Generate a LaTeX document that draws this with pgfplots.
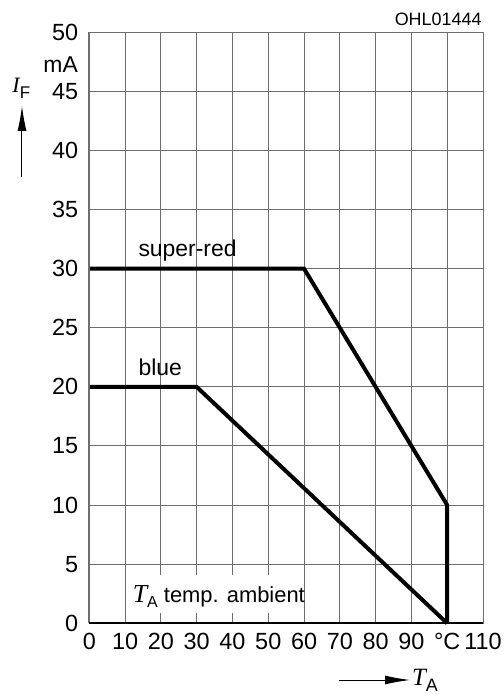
\documentclass[border=0pt]{standalone}
\usepackage{pgfplots}
\pgfplotsset{compat=1.18}
\usetikzlibrary{arrows.meta}
\usepackage{fontspec}
\setmainfont{Liberation Sans}
\newfontfamily\serifit{Liberation Serif}[ItalicFont=* Italic]

\definecolor{gridgray}{RGB}{110,110,110}

\begin{document}
\begin{tikzpicture}[x=1bp,y=1bp]
\useasboundingbox (-89.3,-70.7) rectangle (414.7,623.3);
\begin{axis}[
  at={(0,0)}, anchor=south west,
  scale only axis, width=393.7bp, height=591bp,
  xmin=0, xmax=110, ymin=0, ymax=50,
  xtick={0,10,...,110},
  xticklabels={0,10,20,30,40,50,60,70,80,90,°C,110},
  ytick={0,5,...,50},
  grid=major,
  major grid style={draw=gridgray, line width=1bp},
  axis line style={draw=gridgray, line width=1bp},
  major tick length=0pt,
  tick style={draw=none},
  ticklabel style={font=\fontsize{23.5}{27}\selectfont},
  xticklabel style={inner sep=0pt, yshift=-10bp},
  yticklabel style={inner sep=0pt, xshift=-11bp},
  /pgf/number format/assume math mode=true,
  clip=false,
]
% current ratings
\addplot[black, line width=4bp] coordinates {(0,30) (60,30) (100,10) (100,0)};
\addplot[black, line width=4bp] coordinates {(0,20) (30,20) (100,0)};

% heavier left and bottom axis lines
\draw[gridgray, line width=2bp] (axis cs:0,0) -- (axis cs:0,50);
\draw[black, line width=2bp] (axis cs:0,0) -- (axis cs:110,0);

% curve names
\node[anchor=base west, inner sep=0pt, font=\fontsize{23}{27}\selectfont]
  at (axis cs:13.7,31.07) {super-red};
\node[anchor=base west, inner sep=0pt, font=\fontsize{23}{27}\selectfont]
  at (axis cs:13.7,21.0) {blue};

% ambient temperature note
\fill[white] (axis cs:10.25,0.87) rectangle (axis cs:58.3,4.09);
\node[anchor=base west, inner sep=0pt, font=\fontsize{22}{26}\selectfont]
  at (axis cs:12.1,1.78)
  {{\serifit\itshape\fontsize{26}{28}\selectfont T}\raisebox{-5bp}{\fontsize{16}{18}\selectfont A} temp. ambient};
\end{axis}

% unit on the y axis
\node[anchor=base east, inner sep=0pt, font=\fontsize{23}{27}\selectfont]
  at (-11.3,550.6) {mA};
% y quantity with arrow
\node[anchor=base west, inner sep=0pt] at (-77,530.3)
  {{\serifit\itshape\fontsize{22}{24}\selectfont I}\raisebox{-6bp}{\fontsize{17}{19}\selectfont F}};
\draw[line width=1bp, -{Latex[length=25bp,width=9bp]}] (-67.3,446.3) -- (-67.3,517.3);

% x quantity with arrow
\draw[line width=1bp, -{Latex[length=25bp,width=9bp]}] (249.7,-56.7) -- (320.7,-56.7);
\node[anchor=base west, inner sep=0pt] at (322.5,-61.7)
  {{\serifit\itshape\fontsize{25}{27}\selectfont T}\raisebox{-6bp}{\fontsize{18}{20}\selectfont A}};

% drawing number
\node[anchor=base east, inner sep=0pt, font=\fontsize{18}{20}\selectfont]
  at (392.4,597.6) {OHL01444};
\end{tikzpicture}
\end{document}
